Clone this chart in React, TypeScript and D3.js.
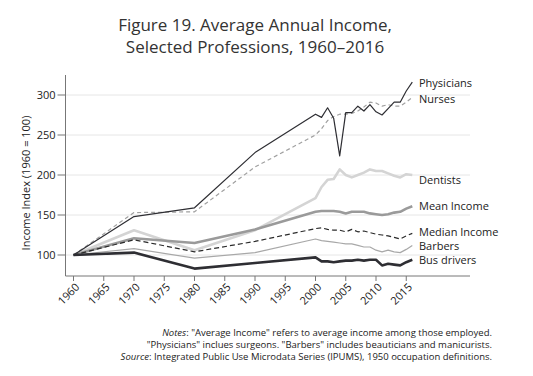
import React from "react";
import * as d3 from "d3";

const years = [1960, 1970, 1980, 1990, 2000, 2001, 2002, 2003, 2004, 2005, 2006, 2007, 2008, 2009, 2010, 2011, 2012, 2013, 2014, 2015, 2016];
const physicians = [100, 148, 159, 228, 276, 272, 284, 271, 224, 278, 278, 286, 280, 288, 279, 275, 283, 291, 291, 305, 316];
const nurses = [100, 153, 154, 210, 250, 258, 268, 273, 276, 276, 277, 280, 285, 291, 290, 286, 288, 286, 286, 291, 297];
const dentists = [100, 131, 106, 131, 171, 185, 194, 195, 207, 200, 197, 200, 203, 207, 205, 205, 202, 199, 197, 201, 200];
const meanIncome = [100, 121, 115, 132, 154, 155, 155, 155, 154, 152, 154, 154, 154, 152, 151, 150, 151, 153, 154, 158, 161];
const medianIncome = [100, 119, 104, 117, 133, 134, 132, 131, 131, 129, 132, 129, 130, 128, 126, 125, 124, 122, 120, 124, 127];
const barbers = [100, 108, 96, 103, 120, 118, 117, 116, 115, 114, 114, 112, 110, 110, 106, 104, 106, 104, 103, 107, 112];
const busDrivers = [100, 103, 83, 90, 97, 92, 92, 91, 92, 93, 93, 94, 93, 94, 94, 87, 89, 88, 87, 91, 94];

const yTicks = [100, 150, 200, 250, 300];
const xTicks = [1960, 1965, 1970, 1975, 1980, 1985, 1990, 1995, 2000, 2005, 2010, 2015];

const series = [
  { name: "Dentists", values: dentists, color: "#d4d4d4", width: 2.6, dash: "", dy: 5 },
  { name: "Mean Income", values: meanIncome, color: "#9a9a9a", width: 2.6, dash: "", dy: 0 },
  { name: "Barbers", values: barbers, color: "#a8a8a8", width: 1.2, dash: "", dy: 0.5 },
  { name: "Nurses", values: nurses, color: "#a0a0a0", width: 1.2, dash: "4,3", dy: 2 },
  { name: "Median Income", values: medianIncome, color: "#2a2a2a", width: 1.2, dash: "5,3", dy: -1 },
  { name: "Bus drivers", values: busDrivers, color: "#2e2e33", width: 2.6, dash: "", dy: 0.5 },
  { name: "Physicians", values: physicians, color: "#2e2e33", width: 1.2, dash: "", dy: 0.5 },
];

const W = 533;
const H = 376;
const font = "'Open Sans', 'DejaVu Sans', sans-serif";

export default function App() {
  const x = d3.scaleLinear().domain([1960, 2016]).range([73.5, 412.3]);
  const y = d3.scaleLinear().domain([100, 300]).range([255, 95]);
  const line = d3
    .line<[number, number]>()
    .x((d) => x(d[0]))
    .y((d) => y(d[1]));

  const plotLeft = 65.5;
  const plotRight = 470;
  const plotTop = 75;
  const plotBottom = 276;

  return (
    <svg
      width={W}
      height={H}
      style={{ position: "absolute", left: 0, top: 0, background: "#fff" }}
      fontFamily={font}
    >
      <text x={255} y={31} textAnchor="middle" fontSize={17} fill="#333">
        Figure 19. Average Annual Income,
      </text>
      <text x={255} y={53} textAnchor="middle" fontSize={17} fill="#333">
        Selected Professions, 1960–2016
      </text>

      {yTicks.map((t) => (
        <line key={"g" + t} x1={plotLeft} x2={plotRight} y1={y(t)} y2={y(t)} stroke="#e6e6e6" strokeWidth={1} />
      ))}

      <line x1={plotLeft} x2={plotLeft} y1={plotTop} y2={plotBottom} stroke="#777" strokeWidth={1} />
      <line x1={plotLeft} x2={plotRight} y1={plotBottom} y2={plotBottom} stroke="#777" strokeWidth={1} />

      {yTicks.map((t) => (
        <g key={"yt" + t}>
          <line x1={plotLeft - 8} x2={plotLeft} y1={y(t)} y2={y(t)} stroke="#777" />
          <text x={plotLeft - 10} y={y(t)} dy="0.35em" textAnchor="end" fontSize={11} fill="#222">
            {t}
          </text>
        </g>
      ))}

      {xTicks.map((t) => (
        <g key={"xt" + t}>
          <line x1={x(t)} x2={x(t)} y1={plotBottom} y2={plotBottom + 5} stroke="#777" />
          <text
            transform={`translate(${x(t) + 4},${plotBottom + 9}) rotate(-45)`}
            textAnchor="end"
            fontSize={11}
            fill="#222"
            dy="0.35em"
          >
            {t}
          </text>
        </g>
      ))}

      <text
        transform={`translate(30,183) rotate(-90)`}
        textAnchor="middle"
        fontSize={11}
        fill="#222"
      >
        Income Index (1960 = 100)
      </text>

      {series.map((s) => (
        <path
          key={s.name}
          d={line(years.map((yr, i) => [yr, s.values[i]] as [number, number])) || ""}
          fill="none"
          stroke={s.color}
          strokeWidth={s.width}
          strokeDasharray={s.dash}
          strokeLinejoin="round"
        />
      ))}

      {series.map((s) => (
        <text
          key={"l" + s.name}
          x={419}
          y={y(s.values[s.values.length - 1]) + s.dy}
          dy="0.35em"
          fontSize={11}
          fill="#222"
        >
          {s.name}
        </text>
      ))}

      <g fontSize={9.5} fill="#222" textAnchor="end">
        <text x={492} y={336}>
          <tspan fontStyle="italic">Notes</tspan>: "Average Income" refers to average income among those employed.
        </text>
        <text x={492} y={348}>
          "Physicians" inclues surgeons. "Barbers" includes beauticians and manicurists.
        </text>
        <text x={492} y={360}>
          <tspan fontStyle="italic">Source</tspan>: Integrated Public Use Microdata Series (IPUMS), 1950 occupation definitions.
        </text>
      </g>
    </svg>
  );
}
